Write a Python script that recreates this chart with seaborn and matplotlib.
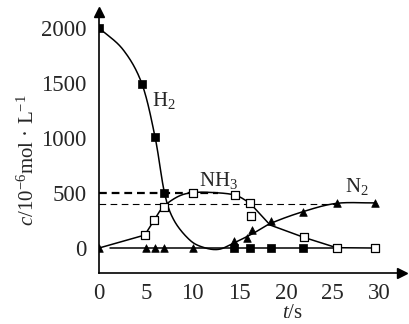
import numpy as np
import pandas as pd
import matplotlib
matplotlib.use("Agg")
import matplotlib.pyplot as plt
import seaborn as sns

# ---------------- data ----------------
h2_t = [0, 4.6, 6.0, 7.0, 14.4, 16.2, 18.4, 21.8]
h2_c = [2000, 1490, 1006, 503, 0, 0, 0, 0]

nh3_t = [4.9, 5.9, 6.9, 10.0, 14.5, 16.1, 16.3, 21.9, 25.4, 29.5]
nh3_c = [118, 255, 376, 503, 482, 412, 291, 97, 3, 0]

n2_t = [0, 5.0, 6.0, 7.0, 10.0, 14.4, 15.8, 16.4, 18.4, 21.8, 25.4, 29.5]
n2_c = [0, 0, 0, 0, 0, 66, 88, 164, 248, 330, 406, 406]

# drawn curves (path)
h2n2_curve_t = [0, 2.6, 4.6, 6.0, 7.0, 8.0, 9.7, 11.2, 12.8, 14.4, 16.5, 18.4, 21.8, 25.4, 29.5]
h2n2_curve_c = [2000, 1800, 1490, 1006, 503, 255, 73, 5, -12, 45, 134, 225, 330, 406, 410]
nh3_start_t = [0, 4.9]
nh3_start_c = [0, 118]
nh3_curve_t = [4.9, 5.9, 6.9, 8.5, 10.0, 12.0, 14.5, 16.1]
nh3_curve_c = [118, 255, 376, 470, 503, 505, 482, 412]
nh3_tail_t = [16.1, 18.3, 21.9, 25.4, 29.5]
nh3_tail_c = [412, 209, 97, 3, 0]
zero_line_t = [1.2, 25.4]
zero_line_c = [0, 0]

level_thick = 500
level_thin = 400

x_ticks = [0, 5, 10, 15, 20, 25, 30]
y_ticks = [0, 500, 1000, 1500, 2000]


def catmull_rom(xs, ys, n=30):
    P = np.column_stack([xs, ys]).astype(float)
    P = np.vstack([2 * P[0] - P[1], P, 2 * P[-1] - P[-2]])
    out = []
    u = np.linspace(0, 1, n)[:, None]
    for i in range(1, len(P) - 2):
        p0, p1, p2, p3 = P[i - 1], P[i], P[i + 1], P[i + 2]
        seg = 0.5 * (2 * p1 + (-p0 + p2) * u + (2 * p0 - 5 * p1 + 4 * p2 - p3) * u ** 2
                     + (-p0 + 3 * p1 - 3 * p2 + p3) * u ** 3)
        out.append(seg if i == 1 else seg[1:])
    out = np.vstack(out)
    return out[:, 0], out[:, 1]


sns.set_style("white")
plt.rcParams["font.family"] = ["Liberation Serif", "DejaVu Serif"]
plt.rcParams["mathtext.fontset"] = "custom"
plt.rcParams["mathtext.rm"] = "Liberation Serif"
plt.rcParams["mathtext.it"] = "Liberation Serif:italic"
plt.rcParams["axes.unicode_minus"] = True

fig = plt.figure(figsize=(4.10, 3.24), dpi=100)
ax = fig.add_axes([99 / 410, 51 / 324, 303 / 410, 261 / 324])

lw = 1.1
sx, sy = catmull_rom(h2n2_curve_t, h2n2_curve_c)
sns.lineplot(x=sx, y=sy, sort=False, estimator=None, color="k", lw=lw, ax=ax)
sx, sy = catmull_rom(nh3_curve_t, nh3_curve_c)
sns.lineplot(x=sx, y=sy, sort=False, estimator=None, color="k", lw=lw, ax=ax)
sns.lineplot(x=nh3_start_t, y=nh3_start_c, sort=False, estimator=None, color="k", lw=lw, ax=ax)
sns.lineplot(x=nh3_tail_t, y=nh3_tail_c, sort=False, estimator=None, color="k", lw=lw, ax=ax)
sns.lineplot(x=zero_line_t, y=zero_line_c, sort=False, estimator=None, color="k", lw=lw, ax=ax)

ax.plot([0, 12.7], [level_thick, level_thick], color="k", lw=1.6, dashes=(3.5, 2.2))
ax.plot([0, 25.4], [level_thin, level_thin], color="k", lw=0.8, dashes=(6, 4))

sns.scatterplot(x=n2_t, y=n2_c, marker="^", s=30, color="k", edgecolor="k", linewidth=0.5, ax=ax, zorder=5)
sns.scatterplot(x=nh3_t, y=nh3_c, marker="s", s=36, color="white", edgecolor="k", linewidth=0.9, ax=ax, zorder=5)
sns.scatterplot(x=h2_t, y=h2_c, marker="s", s=34, color="k", edgecolor="k", linewidth=0.5, ax=ax, zorder=6)

ax.set_xlim(0, 32.4)
ax.set_ylim(-227, 2145)
ax.set_xticks(x_ticks)
ax.set_yticks(y_ticks)
ax.set_xticks(np.arange(0, 32.4, 2.5), minor=True)
ax.set_yticks(np.arange(0, 2101, 100), minor=True)
ax.tick_params(axis="both", which="both", direction="in", length=4, width=1, labelsize=16.5, color="k")
ax.tick_params(axis="y", which="both", pad=9)
ax.tick_params(axis="x", which="both", pad=7)

for side in ["top", "right"]:
    ax.spines[side].set_visible(False)
for side in ["left", "bottom"]:
    ax.spines[side].set_linewidth(1.2)
    ax.spines[side].set_color("k")

ax.plot(1, 0, marker=">", ms=7, color="k", transform=ax.transAxes, clip_on=False)
ax.plot(0, 1, marker="^", ms=7, color="k", transform=ax.transAxes, clip_on=False)

ax.text(6.95, 1345, "H$_2$", fontsize=15, ha="center", va="center")
ax.text(12.8, 618, "NH$_3$", fontsize=15, ha="center", va="center")
ax.text(27.6, 555, "N$_2$", fontsize=15, ha="center", va="center")

ax.set_xlabel("")
ax.set_ylabel("")
fig.text(292 / 410, 1 - 313 / 324, "$t$/s", fontsize=15, ha="center", va="center")
fig.text(28 / 410, 1 - 160 / 324, "$c$/10$^{-6}$mol · L$^{-1}$", fontsize=15,
         rotation=90, ha="center", va="center")

fig.savefig("out.png", dpi=100)
